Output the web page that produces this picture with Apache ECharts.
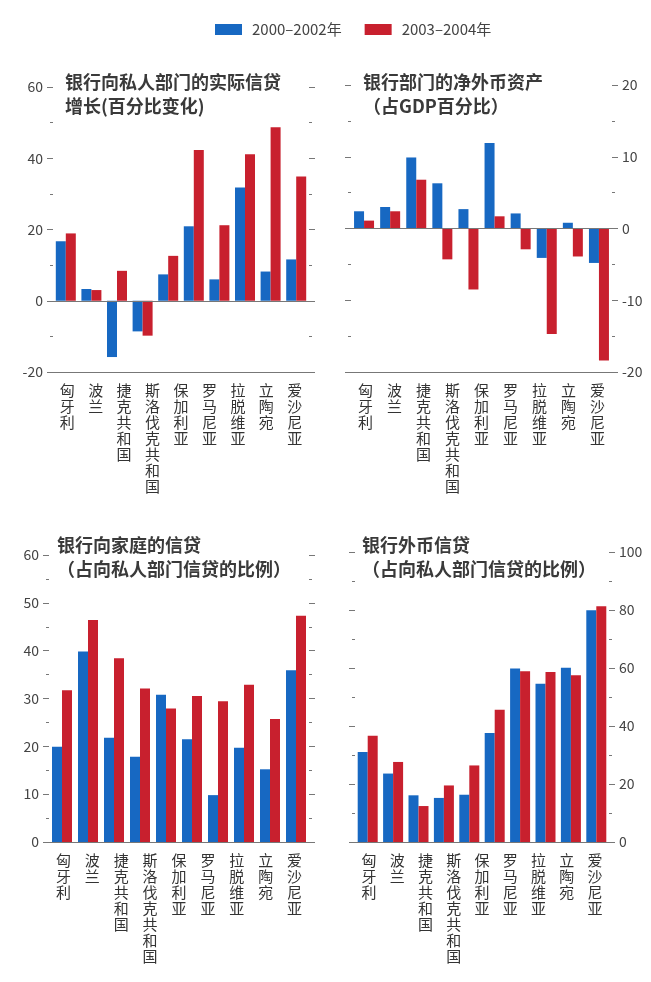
<!DOCTYPE html>
<html>
<head>
<meta charset="utf-8">
<script src="https://cdn.jsdelivr.net/npm/echarts@6/dist/echarts.min.js"></script>
<style>
  html, body { margin: 0; padding: 0; background: #fff; }
  #main { width: 651px; height: 982px; }
</style>
</head>
<body>
<div id="main"></div>
<script>
// 图例
const seriesNames = ['2000–2002年', '2003–2004年'];
// 横轴下方的国家名称（原图只印了9个名称）
const countries = ['匈牙利', '波兰', '捷克共和国', '斯洛伐克共和国', '保加利亚', '罗马尼亚', '拉脱维亚', '立陶宛', '爱沙尼亚'];
// 柱子分组（原图有10组柱子）
const slots = ['1', '2', '3', '4', '5', '6', '7', '8', '9', '10'];

const titles = [
  '银行向私人部门的实际信贷\n增长(百分比变化)',
  '银行部门的净外币资产\n（占GDP百分比）',
  '银行向家庭的信贷\n（占向私人部门信贷的比例）',
  '银行外币信贷\n（占向私人部门信贷的比例）'
];

// 银行向私人部门的实际信贷增长
const creditGrowthA = [16.7, 3.3, -15.8, -8.6, 7.4, 20.9, 6.0, 31.8, 8.2, 11.6];
const creditGrowthB = [18.9, 3.0, 8.4, -9.8, 12.6, 42.3, 21.2, 41.1, 48.7, 34.9];
// 银行部门的净外币资产
const netForeignA = [2.4, 3.0, 9.9, 6.3, 2.7, 11.9, 2.1, -4.1, 0.8, -4.8];
const netForeignB = [1.1, 2.4, 6.8, -4.3, -8.5, 1.7, -2.9, -14.7, -3.9, -18.4];
// 银行向家庭的信贷
const householdA = [19.9, 39.8, 21.8, 17.8, 30.8, 21.5, 9.8, 19.7, 15.2, 35.9];
const householdB = [31.7, 46.4, 38.4, 32.1, 27.9, 30.5, 29.4, 32.9, 25.7, 47.3];
// 银行外币信贷
const fxLoansA = [31.0, 23.6, 16.1, 15.2, 16.3, 37.6, 59.8, 54.6, 60.1, 79.9];
const fxLoansB = [36.6, 27.6, 12.4, 19.5, 26.4, 45.6, 58.9, 58.6, 57.5, 81.3];

const blue = '#1768c2';
const red = '#c8202e';
const axisGray = '#777';
const textGray = '#444';
const font = '"Noto Sans CJK SC", "Noto Sans", sans-serif';

let myChart = echarts.init(document.getElementById('main'));

const panels = [
  { grid: { left: 53, width: 256, top: 87, height: 285 }, min: -20, max: 60, interval: 20, labelSide: 'left',
    title: [65, 70], a: creditGrowthA, b: creditGrowthB, zero: true },
  { grid: { left: 351, width: 261, top: 85, height: 287 }, min: -20, max: 20, interval: 10, labelSide: 'right',
    title: [363, 70], a: netForeignA, b: netForeignB, zero: true },
  { grid: { left: 49, width: 260, top: 555, height: 287 }, min: 0, max: 60, interval: 10, labelSide: 'left',
    title: [57, 533], a: householdA, b: householdB, zero: false },
  { grid: { left: 355, width: 254, top: 552, height: 290 }, min: 0, max: 100, interval: 20, labelSide: 'right',
    title: [362, 533], a: fxLoansA, b: fxLoansB, zero: false }
];

let grid = [], xAxis = [], yAxis = [], series = [], title = [];

panels.forEach((p, i) => {
  grid.push(p.grid);
  title.push({
    text: titles[i],
    left: p.title[0],
    top: p.title[1],
    padding: 0,
    textStyle: { fontFamily: font, fontSize: 18, fontWeight: 'bold', color: '#3a3a3a', lineHeight: 24 }
  });
  // 柱子所用的横轴
  xAxis.push({
    type: 'category',
    gridIndex: i,
    position: 'bottom',
    data: slots,
    axisLine: { onZero: false, lineStyle: { color: axisGray, width: 1 } },
    axisTick: { inside: true, length: 5, alignWithLabel: true, lineStyle: { color: axisGray } },
    axisLabel: { show: false }
  });
  // 只放国家名称的横轴
  xAxis.push({
    type: 'category',
    gridIndex: i,
    position: 'bottom',
    data: countries,
    axisLine: { show: false, onZero: false },
    axisTick: { show: false },
    axisLabel: {
      interval: 0,
      margin: 10,
      fontFamily: font,
      fontSize: 15,
      lineHeight: 16,
      color: '#333',
      formatter: v => v.split('').join('\n')
    }
  });
  ['left', 'right'].forEach(side => {
    yAxis.push({
      type: 'value',
      gridIndex: i,
      position: side,
      min: p.min,
      max: p.max,
      interval: p.interval,
      splitLine: { show: false },
      axisLine: { show: false },
      axisTick: { show: true, length: 6, lineStyle: { color: axisGray } },
      minorTick: { show: true, splitNumber: 2, length: 3, lineStyle: { color: axisGray } },
      axisLabel: {
        show: side === p.labelSide,
        margin: 10,
        fontFamily: font,
        fontSize: 14,
        color: textGray
      }
    });
  });
  const common = {
    type: 'bar',
    xAxisIndex: i * 2,
    yAxisIndex: i * 2,
    barWidth: 10,
    barGap: '0%',
    silent: true
  };
  series.push(Object.assign({}, common, {
    name: seriesNames[0],
    data: p.a,
    itemStyle: { color: blue },
    markLine: p.zero ? {
      silent: true,
      symbol: ['none', 'none'],
      label: { show: false },
      lineStyle: { color: axisGray, type: 'solid', width: 1 },
      data: [{ yAxis: 0 }]
    } : undefined
  }));
  series.push(Object.assign({}, common, {
    name: seriesNames[1],
    data: p.b,
    itemStyle: { color: red }
  }));
});

let option = {
  animation: false,
  title: title,
  legend: {
    data: seriesNames,
    left: 210,
    top: 17,
    itemWidth: 27,
    itemHeight: 11,
    itemGap: 23,
    icon: 'rect',
    textStyle: { fontFamily: font, fontSize: 15, color: textGray, padding: [0, 0, 0, 5] }
  },
  grid: grid,
  xAxis: xAxis,
  yAxis: yAxis,
  series: series
};
myChart.setOption(option);
</script>
</body>
</html>
